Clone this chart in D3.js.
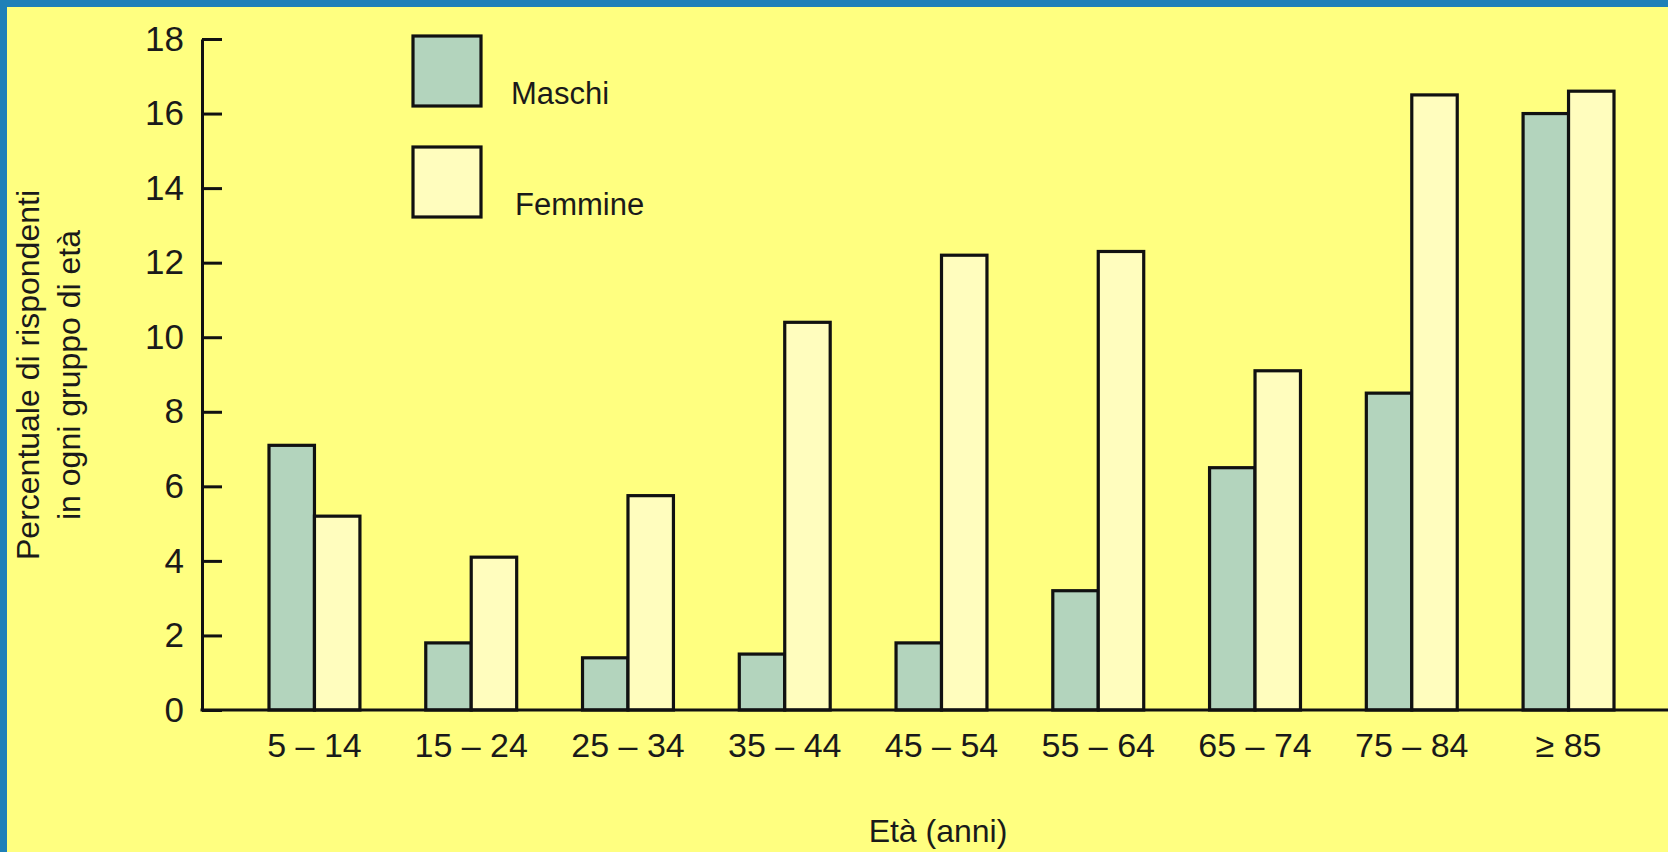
<!DOCTYPE html>
<html>
<head>
<meta charset="utf-8">
<script src="https://cdn.jsdelivr.net/npm/d3@7"></script>
<style>
  html, body { margin: 0; padding: 0; background: #1F80B8; }
  svg { display: block; }
  text { font-family: "Liberation Sans", Arial, sans-serif; fill: #1a1a1a; }
</style>
</head>
<body>
<svg id="chart" width="1668" height="852"></svg>
<script>
// ---- data ----
const categories = ["5 – 14", "15 – 24", "25 – 34", "35 – 44", "45 – 54", "55 – 64", "65 – 74", "75 – 84", "≥ 85"];
const maschi = [7.1, 1.8, 1.4, 1.5, 1.8, 3.2, 6.5, 8.5, 16.0];
const femmine = [5.2, 4.1, 5.75, 10.4, 12.2, 12.3, 9.1, 16.5, 16.6];
const seriesNames = ["Maschi", "Femmine"];
const yTicks = [0, 2, 4, 6, 8, 10, 12, 14, 16, 18];
const yTitle = ["Percentuale di rispondenti", "in ogni gruppo di età"];
const xTitle = "Età (anni)";

const colors = { Maschi: "#B3D4BD", Femmine: "#FFFDBE" };

const svg = d3.select("#chart");
const W = 1668, H = 852;

// frame
svg.append("rect").attr("x", 0).attr("y", 0).attr("width", W).attr("height", H).attr("fill", "#1F80B8");
svg.append("rect").attr("x", 7).attr("y", 7).attr("width", W - 7).attr("height", H - 7).attr("fill", "#FFFF80");

// scales
const axisX = 202;
const y = d3.scaleLinear().domain([0, 18]).range([710, 39]);
const x = d3.scaleBand().domain(categories).range([269, 1614]).paddingInner(0.42).paddingOuter(0);
const xs = d3.scaleBand().domain(seriesNames).range([0, x.bandwidth()]).padding(0);

const rows = categories.map((c, i) => ({ cat: c, Maschi: maschi[i], Femmine: femmine[i] }));

// bars
const g = svg.append("g");
const groups = g.selectAll("g.grp").data(rows).join("g")
  .attr("class", "grp")
  .attr("transform", d => `translate(${x(d.cat)},0)`);
groups.selectAll("rect").data(d => seriesNames.map(s => ({ s, v: d[s] }))).join("rect")
  .attr("x", d => xs(d.s))
  .attr("y", d => y(d.v))
  .attr("width", xs.bandwidth())
  .attr("height", d => y(0) - y(d.v))
  .attr("fill", d => colors[d.s])
  .attr("stroke", "#111")
  .attr("stroke-width", 3.2);

// y axis
const yAxis = svg.append("g")
  .attr("transform", `translate(${axisX},0)`)
  .call(d3.axisLeft(y).tickValues(yTicks).tickSizeInner(-20).tickSizeOuter(0).tickPadding(18));
yAxis.select(".domain").attr("stroke", "#111").attr("stroke-width", 3);
yAxis.selectAll(".tick line").attr("stroke", "#111").attr("stroke-width", 3);
yAxis.selectAll(".tick text").style("font-size", "35px").style("font-family", "Liberation Sans, Arial, sans-serif").attr("fill", "#1a1a1a");

// x axis
const xAxis = svg.append("g")
  .attr("transform", `translate(0,${y(0)})`)
  .call(d3.axisBottom(x).tickSize(0).tickPadding(23));
xAxis.select(".domain").remove();
xAxis.selectAll(".tick text").style("font-size", "34px").style("font-family", "Liberation Sans, Arial, sans-serif").attr("fill", "#1a1a1a");
svg.append("line")
  .attr("x1", axisX - 1.5).attr("x2", W)
  .attr("y1", y(0)).attr("y2", y(0))
  .attr("stroke", "#111").attr("stroke-width", 3);

// axis titles
svg.append("text")
  .attr("x", 938).attr("y", 842)
  .attr("text-anchor", "middle")
  .style("font-size", "32px")
  .text(xTitle);

const yt = svg.append("text")
  .attr("transform", "translate(39,375) rotate(-90)")
  .attr("text-anchor", "middle")
  .style("font-size", "32px");
yt.selectAll("tspan").data(yTitle).join("tspan")
  .attr("x", 0)
  .attr("dy", (d, i) => i === 0 ? 0 : 41)
  .text(d => d);

// legend
const legend = svg.append("g");
const legY = [36, 147];
seriesNames.forEach((s, i) => {
  legend.append("rect")
    .attr("x", 413).attr("y", legY[i])
    .attr("width", 68).attr("height", 70)
    .attr("fill", colors[s]).attr("stroke", "#111").attr("stroke-width", 3.2);
  legend.append("text")
    .attr("x", i === 0 ? 511 : 515).attr("y", i === 0 ? 104 : 215)
    .style("font-size", "31px")
    .text(s);
});
</script>
</body>
</html>
